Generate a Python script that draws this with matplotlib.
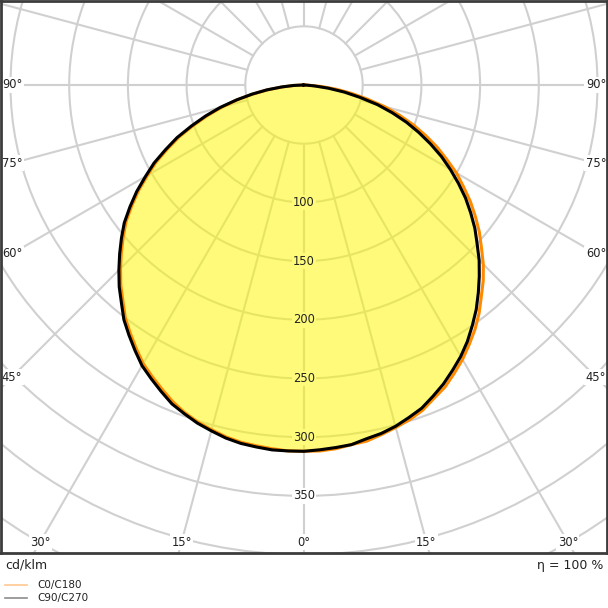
import numpy as np
import matplotlib.pyplot as plt
from matplotlib.patches import Circle
from matplotlib.lines import Line2D

# luminous intensity in cd/klm, gamma 0..90 deg in 2.5 deg steps
gamma = np.arange(0, 90.1, 2.5)
c0 = np.array([312, 312, 311, 309, 308, 305, 302, 299, 295, 289, 284, 277, 270, 262, 254, 245, 235, 226, 216,
               205, 195, 184, 173, 161, 150, 137, 125, 112, 99, 85, 71, 55, 41, 28, 15, 4, 0])
c180 = np.array([312, 312, 311, 310, 309, 307, 304, 301, 297, 292, 286, 280, 274, 266, 258, 250, 240, 231, 221,
                 211, 201, 191, 179, 167, 154, 142, 128, 115, 100, 86, 72, 58, 44, 31, 18, 8, 0])
c90 = np.array([312, 311, 310, 309, 306, 304, 301, 297, 293, 287, 281, 274, 267, 259, 250, 241, 231, 221, 211,
                200, 190, 179, 168, 156, 144, 132, 119, 106, 93, 79, 65, 49, 35, 21, 9, 2, 0])
c270 = np.array([312, 312, 312, 311, 310, 308, 305, 302, 298, 294, 288, 282, 276, 268, 260, 252, 242, 233, 223,
                 213, 203, 193, 181, 169, 156, 144, 130, 117, 102, 88, 74, 59, 45, 32, 19, 9, 1])

rings = [50, 100, 150, 200, 250, 300, 350, 400, 450, 500, 550]
ring_labels = [100, 150, 200, 250, 300, 350]
side_angles = [45, 60, 75, 90]
bottom_angles = [0, 15, 30]

W = 608
k = 58.7 / 50          # pixels per cd/klm
ox, oy = 304, 85       # origin of the diagram in pixels

fig = plt.figure(figsize=(6.08, 6.08), dpi=100)
ax = fig.add_axes([1 / W, (W - 553) / W, 606 / W, 552 / W])
ax.set_xlim(-(ox - 1) / k, (607 - ox) / k)
ax.set_ylim(-(553 - oy) / k, (oy - 1) / k)
ax.set_xticks([])
ax.set_yticks([])
for s in ax.spines.values():
    s.set_linewidth(2)
    s.set_color('#3c3c3c')
    s.set_zorder(10)

grid_col = '#d0d0d0'
for r in rings:
    ax.add_patch(Circle((0, 0), r, fill=False, ec=grid_col, lw=1.5, zorder=1))
for a in range(0, 360, 15):
    t = np.radians(a)
    ax.plot([50 * np.sin(t), 700 * np.sin(t)], [-50 * np.cos(t), -700 * np.cos(t)],
            color=grid_col, lw=1.5, zorder=1)


def curve(left, right):
    t = np.radians(gamma)
    x = np.concatenate([-(left * np.sin(t))[::-1], right * np.sin(t)])
    y = np.concatenate([-(left * np.cos(t))[::-1], -right * np.cos(t)])
    return x, y


x1, y1 = curve(c180, c0)
x2, y2 = curve(c270, c90)
ax.fill(x2, y2, color=(1, 0.97, 0), alpha=0.52, lw=0, zorder=2)
ax.plot(x1, y1, color='#ff8a00', lw=2.2, zorder=3, solid_joinstyle='round')
ax.plot(x2, y2, color='black', lw=2.2, zorder=4, solid_joinstyle='round')

yellow = '#fffb7a'
for v in ring_labels:
    fc = yellow if v <= 300 else 'white'
    ax.text(0, -v, str(v), ha='center', va='center', fontsize=8.3, color='#222222', zorder=6,
            bbox=dict(boxstyle='square,pad=0.12', fc=fc, ec='none'))

for a in side_angles:
    dx = 292 / k
    y = -dx / np.tan(np.radians(a)) if a < 90 else 0
    for sx in (-1, 1):
        ax.text(sx * dx, y, f'{a}°', ha='center', va='center', fontsize=8.3, color='#222222',
                zorder=6, bbox=dict(boxstyle='square,pad=0.12', fc='white', ec='none'))
for a in bottom_angles:
    dy = 457 / k
    x = dy * np.tan(np.radians(a))
    for sx in ((1,) if a == 0 else (-1, 1)):
        ax.text(sx * x, -dy, f'{a}°', ha='center', va='center', fontsize=8.3, color='#222222',
                zorder=6, bbox=dict(boxstyle='square,pad=0.12', fc='white', ec='none'))

fig.text(5 / W, 1 - 565 / W, 'cd/klm', ha='left', va='center', fontsize=9, color='#222222')
fig.text(603 / W, 1 - 565 / W, 'η = 100 %', ha='right', va='center', fontsize=9, color='#222222')

legend = [('C0/C180', '#ffc890', 585), ('C90/C270', '#8c8c8c', 597.5)]
for name, col, yp in legend:
    fig.add_artist(Line2D([5 / W, 27 / W], [1 - yp / W] * 2, transform=fig.transFigure, color=col, lw=1.2))
    fig.text(37 / W, 1 - yp / W, name, ha='left', va='center', fontsize=7.5, color='#222222')

fig.savefig('out.png', dpi=100)
